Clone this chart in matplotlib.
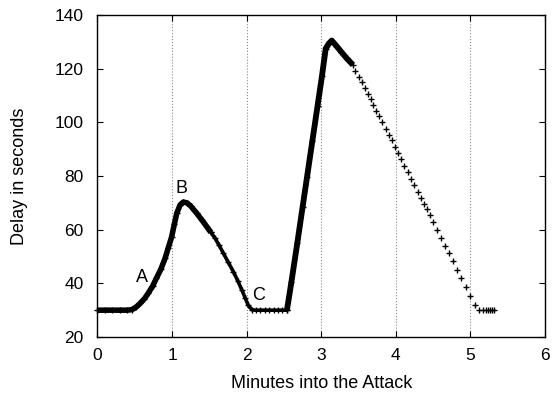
import matplotlib
matplotlib.use("Agg")
import matplotlib.pyplot as plt

plt.rcParams['font.family'] = ['Liberation Sans', 'DejaVu Sans']

# Dense part of the series (appears as a thick trace)
dense_x = [0.0, 0.1, 0.2, 0.3, 0.4, 0.46, 0.52, 0.57, 0.63, 0.68, 0.74, 0.79, 0.85,
           0.906, 0.95, 0.995, 1.03, 1.063, 1.107, 1.15, 1.20, 1.25, 1.331, 1.40, 1.466, 1.52]
dense_y = [30, 30, 30, 30, 30, 30.2, 31.2, 32.5, 34.3, 36.3, 39.0, 41.9, 45.3,
           49.3, 53.3, 57.4, 62.0, 66.1, 69.2, 70.3, 70.0, 68.8, 66.1, 63.6, 61.1, 59.0]

# Medium density part (crosses partly visible)
mid_x = [1.52, 1.577, 1.63, 1.689, 1.75, 1.823, 1.88, 1.936, 1.98, 2.02, 2.07,
         2.12, 2.18, 2.24, 2.30, 2.36, 2.42, 2.48, 2.54]
mid_y = [59.0, 56.8, 54.2, 51.2, 48.0, 44.3, 41.0, 37.5, 34.6, 31.9, 30.2,
         30, 30, 30, 30, 30, 30, 30, 30]

# Second dense rise
rise_x = [2.54, 2.60, 2.68, 2.75, 2.81, 2.88, 2.95, 3.01, 3.06, 3.10, 3.14, 3.20, 3.27, 3.34, 3.425]
rise_y = [30, 40.5, 55.2, 68.4, 79.7, 92.9, 106.0, 117.3, 127.5, 129.3, 130.5, 128.6, 126.2, 123.9, 121.4]

# Sparse tail (individual + markers)
tail_x = [3.456, 3.501, 3.541, 3.582, 3.622, 3.662, 3.698, 3.738, 3.779, 3.819, 3.863,
          3.903, 3.944, 3.984, 4.024, 4.072, 4.114, 4.159, 4.204, 4.248, 4.293, 4.338,
          4.373, 4.414, 4.454, 4.503, 4.553, 4.606, 4.660, 4.714, 4.763, 4.821, 4.879,
          4.937, 4.996, 5.058, 5.117, 5.165, 5.205, 5.242, 5.268, 5.295, 5.322]
tail_y = [119.2, 117.0, 114.9, 112.8, 110.7, 108.7, 106.6, 104.3, 102.2, 100.0, 97.6,
          95.4, 93.3, 90.9, 88.7, 86.4, 83.8, 81.4, 79.0, 76.6, 74.1, 71.7,
          69.6, 67.6, 65.3, 62.7, 59.9, 57.0, 54.0, 51.2, 48.2, 45.1, 41.9,
          38.6, 35.3, 31.9, 30, 30, 30, 30, 30, 30, 30]

labels = ["A", "B", "C"]
label_x = [0.60, 1.12, 2.16]
label_y = [42.0, 75.5, 35.3]

x_ticks = [0, 1, 2, 3, 4, 5, 6]
y_ticks = [20, 40, 60, 80, 100, 120, 140]

fig = plt.figure(figsize=(5.52, 3.95), dpi=100)
ax = fig.add_axes([0.1766, 0.1468, 0.8107, 0.8152])

ax.plot(dense_x, dense_y, color='black', lw=4.0, solid_capstyle='butt',
        marker='+', ms=4.5, mew=1.0, clip_on=False)
ax.plot(mid_x, mid_y, color='black', lw=2.6, solid_capstyle='butt',
        marker='+', ms=4.5, mew=1.0)
ax.plot(rise_x, rise_y, color='black', lw=4.2, solid_capstyle='butt',
        marker='+', ms=4.5, mew=1.0)
ax.plot(tail_x, tail_y, color='black', lw=0, marker='+', ms=4.5, mew=1.0)

for t, lx, ly in zip(labels, label_x, label_y):
    ax.text(lx, ly, t, fontsize=13, ha='center', va='center')

ax.set_xlim(0, 6)
ax.set_ylim(20, 140)
ax.set_xticks(x_ticks)
ax.set_yticks(y_ticks)
ax.tick_params(direction='in', length=4, width=0.8, top=True, right=True,
               labelsize=12.5)
ax.tick_params(axis='x', pad=8)
ax.tick_params(axis='y', pad=10)
ax.grid(axis='x', linestyle=':', color='#888888', lw=0.8)
for s in ax.spines.values():
    s.set_linewidth(1.0)

ax.set_xlabel("Minutes into the Attack", fontsize=13, va='center')
ax.set_ylabel("Delay in seconds", fontsize=13, va='center')
ax.xaxis.set_label_coords(0.5, -0.143)
ax.yaxis.set_label_coords(-0.175, 0.5)

fig.savefig("out.png", dpi=100)
